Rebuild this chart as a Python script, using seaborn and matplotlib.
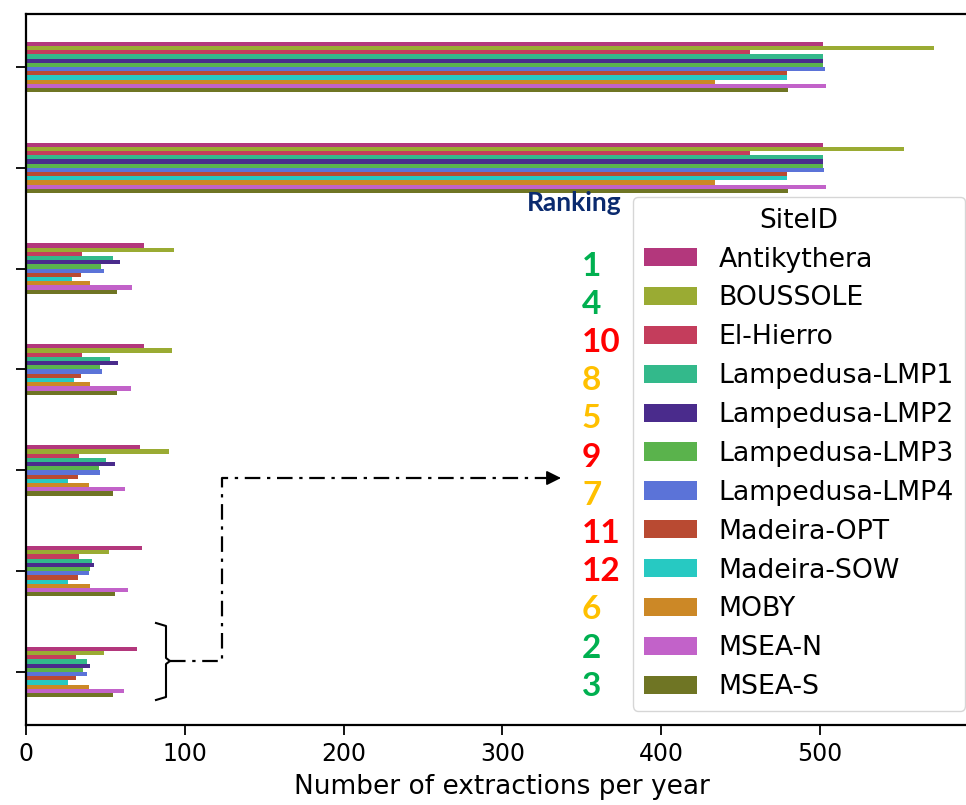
import numpy as np
import pandas as pd
import matplotlib
matplotlib.use("Agg")
import matplotlib.pyplot as plt
import seaborn as sns
from matplotlib.transforms import Affine2D
from matplotlib.lines import Line2D

# ---------------- data ----------------
groups = ["G1", "G2", "G3", "G4", "G5", "G6", "G7"]
sites = ["Antikythera", "BOUSSOLE", "El-Hierro", "Lampedusa-LMP1", "Lampedusa-LMP2",
         "Lampedusa-LMP3", "Lampedusa-LMP4", "Madeira-OPT", "Madeira-SOW", "MOBY",
         "MSEA-N", "MSEA-S"]
antikythera = [502, 502, 74, 74, 72, 73, 70]
boussole = [572, 553, 93, 92, 90, 52, 49]
el_hierro = [456, 456, 35.5, 35.5, 33.5, 33.5, 31.5]
lmp1 = [502, 502, 55, 53, 50.5, 41.5, 38.5]
lmp2 = [502, 502, 59, 58, 56, 43, 40.5]
lmp3 = [502, 502, 47.5, 46.5, 46, 40, 36]
lmp4 = [503, 502.5, 49, 48, 46.5, 39.5, 38.5]
madeira_opt = [479, 479, 34.5, 34.5, 33, 33, 31.5]
madeira_sow = [479, 479, 29, 30, 26.5, 26.5, 26.5]
moby = [434, 434, 40, 40, 39.5, 40.5, 39.5]
msea_n = [504, 504, 66.5, 66, 62.5, 64.5, 62]
msea_s = [480, 480, 57, 57, 55, 56, 54.5]
ranking = [1, 4, 10, 8, 5, 9, 7, 11, 12, 6, 2, 3]

series = [antikythera, boussole, el_hierro, lmp1, lmp2, lmp3, lmp4,
          madeira_opt, madeira_sow, moby, msea_n, msea_s]
rows = []
for s, vals in zip(sites, series):
    for g, v in zip(groups, vals):
        rows.append({"group": g, "SiteID": s, "value": v})
df = pd.DataFrame(rows)

palette = ["#b3377c", "#9aab33", "#c43d5c", "#33b98b", "#4a2b8c", "#5ab34c",
           "#5b73d8", "#b94a32", "#27c9c2", "#cc8826", "#c262c9", "#6f7524"]

# ---------------- figure ----------------
W, H = 966, 805
fig = plt.figure(figsize=(W / 100, H / 100), dpi=100)
ax_left, ax_right_px = 26, 26 + 600 * 1.588
ax = fig.add_axes([ax_left / W, (H - 725) / H, (ax_right_px - ax_left) / W, 711 / H])

sns.barplot(data=df, y="group", x="value", hue="SiteID", orient="h",
            palette=palette, saturation=1, width=0.5, linewidth=0, ax=ax, legend=True)

ax.set_xlim(0, 600)
ax.set_ylim(6.525, -0.525)
ax.set_yticks(range(len(groups)))
ax.set_yticklabels([])
ax.set_ylabel("")
ax.set_xticks([0, 100, 200, 300, 400, 500])
ax.set_xlabel("Number of extractions per year", fontsize=19, labelpad=6)
ax.tick_params(axis="both", labelsize=17, length=7, width=1.3, pad=5)
for sp in ax.spines.values():
    sp.set_linewidth(1.6)

handles, labels = ax.get_legend_handles_labels()
ax.get_legend().remove()
fig.legend(handles, labels, title="SiteID", loc="upper left",
           bbox_to_anchor=(633 / W, 1 - 197 / H), bbox_transform=fig.transFigure,
           fontsize=19.3, title_fontsize=19, handlelength=2.0, handleheight=0.67,
           labelspacing=0.48, borderaxespad=0, borderpad=0.4, handletextpad=0.8,
           framealpha=0.8)

# pixel transform (origin top-left)
pix = Affine2D().scale(1, -1).translate(0, H)

fig.text(574, 203, "Ranking", transform=pix, ha="center", va="center",
         fontsize=19, fontweight="bold", color="#0a2a6e", family="Lato")

def rank_color(r):
    if r <= 4:
        return "#00b050"
    if r <= 8:
        return "#ffc000"
    return "#ff0000"

for i, r in enumerate(ranking):
    y = 266 + i * 38.2
    fig.text(582, y, str(r), transform=pix, ha="left", va="center",
             fontsize=24, fontweight="bold", color=rank_color(r), family="Lato")

# bracket
bx = [156, 166, 166, 170, 166, 166, 156]
by = [623, 626, 658, 661, 664, 697, 700]
fig.add_artist(Line2D(bx, by, transform=pix, color="black", lw=1.5))
# dash-dot connector
fig.add_artist(Line2D([170, 222, 222, 546], [661, 661, 478, 478], transform=pix,
                      color="black", lw=1.6, linestyle=(0, (7, 3, 1.5, 3))))
ax.annotate("", xy=(561, 478), xytext=(543, 478), xycoords=pix, textcoords=pix,
            arrowprops=dict(arrowstyle="-|>", color="black", lw=1.2,
                            mutation_scale=22, shrinkA=0, shrinkB=0),
            annotation_clip=False)

fig.savefig("out.png", dpi=100)
